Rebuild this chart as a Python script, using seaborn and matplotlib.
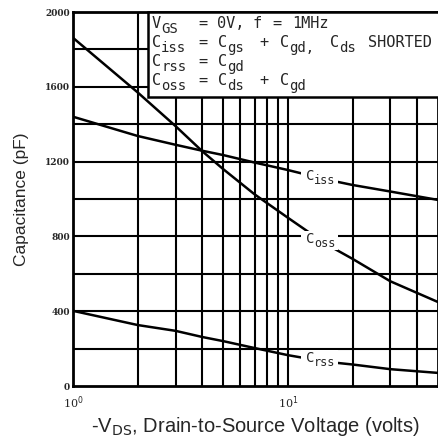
import numpy as np
import pandas as pd
import matplotlib
matplotlib.use("Agg")
import matplotlib.pyplot as plt
import seaborn as sns

# ── data ─────────────────────────────────────────────────────────
vds = [1, 2, 3, 4, 5, 7, 10, 15, 20, 30, 50]
ciss = [1440, 1337, 1290, 1258, 1235, 1195, 1155, 1105, 1075, 1040, 995]
coss = [1862, 1570, 1390, 1255, 1160, 1025, 900, 760, 680, 560, 449]
crss = [402, 326, 295, 262, 240, 203, 165, 130, 115, 90, 70]

y_ticks = [0, 400, 800, 1200, 1600, 2000]
x_ticks = [1, 10]
x_ticklabels = ["10$^0$", "10$^1$"]
curve_subs = ["iss", "oss", "rss"]

df = pd.DataFrame({"vds": vds * 3,
                   "cap": ciss + coss + crss,
                   "series": ["iss"] * len(vds) + ["oss"] * len(vds) + ["rss"] * len(vds)})

sns.set_style("white")
plt.rcParams["font.family"] = ["Liberation Sans", "DejaVu Sans"]
plt.rcParams["mathtext.fontset"] = "dejavusans"

W, H = 438, 441
L, T, R, B = 73, 12, 438, 386          # axes box in pixels
MONO = "DejaVu Sans Mono"

fig = plt.figure(figsize=(W / 100, H / 100), dpi=100)
ax = fig.add_axes([L / W, (H - B) / H, (R - L) / W, (B - T) / H])


def pa(px, py):
    # pixel position -> axes fraction
    return (px - L) / (R - L), (B - py) / (B - T)


sns.lineplot(data=df, x="vds", y="cap", units="series", estimator=None,
             color="black", linewidth=1.8, ax=ax, legend=False, zorder=3)

ax.set_xscale("log")
ax.set_xlim(1, 50)
ax.set_ylim(0, 2000)

for g in [2, 3, 4, 5, 6, 7, 8, 9, 10, 20, 30, 40]:
    ax.axvline(g, color="black", linewidth=1.5, zorder=1)
for g in range(200, 2000, 200):
    ax.axhline(g, color="black", linewidth=1.5, zorder=1)

ax.set_xticks(x_ticks)
ax.set_xticklabels(x_ticklabels, fontsize=8, family="DejaVu Serif")
ax.set_xticks([], minor=True)
ax.set_yticks(y_ticks)
ax.set_yticklabels([str(v) for v in y_ticks],
                   fontsize=6.5, family="DejaVu Serif", fontweight="bold")
ax.tick_params(axis="both", length=0)
ax.tick_params(axis="x", pad=6)
ax.tick_params(axis="y", pad=2)

for s in ax.spines.values():
    s.set_linewidth(2)
    s.set_color("black")

ax.set_xlabel("-V$_{\\rm DS}$, Drain-to-Source Voltage (volts)", fontsize=14.5, labelpad=3)
ax.set_ylabel("Capacitance (pF)", fontsize=12.5, labelpad=12)


def put(px, base, main, sub=None, size=11, sub_size=10, drop=5):
    x, y = pa(px, base)
    ax.text(x, y, main, transform=ax.transAxes, family=MONO, fontsize=size,
            ha="left", va="baseline", zorder=6)
    if sub:
        cw = 0.602 * size * 100 / 72
        x2, y2 = pa(px + cw * len(main), base + drop)
        ax.text(x2, y2, sub, transform=ax.transAxes, family=MONO,
                fontsize=sub_size, ha="left", va="baseline", zorder=6)


# inline curve labels (white patch hides curve + grid behind them)
for sub, base in zip(curve_subs, [180, 243, 362]):
    x0, y0 = pa(301, base + 7)
    x1, y1 = pa(338, base - 12)
    ax.add_patch(plt.Rectangle((x0, y0), x1 - x0, y1 - y0, transform=ax.transAxes,
                               facecolor="white", edgecolor="none", zorder=4))
    put(306, base, "C", sub, size=10, sub_size=8.5, drop=4)

# condition box
bx0, by0 = pa(148, 97)
ax.add_patch(plt.Rectangle((bx0, by0), 1.1 - bx0, 1 - by0,
                           transform=ax.transAxes, facecolor="white",
                           edgecolor="black", linewidth=1.8, zorder=5,
                           clip_on=False))
box_rows = [
    [(152, "V", "GS"), (198, "="), (217, "0V,"), (253, "f"), (272, "="), (292, "1MHz")],
    [(152, "C", "iss"), (198, "="), (218, "C", "gs"), (259, "+"), (280, "C", "gd,"),
     (330, "C", "ds"), (368, "SHORTED")],
    [(152, "C", "rss"), (198, "="), (218, "C", "gd")],
    [(152, "C", "oss"), (198, "="), (218, "C", "ds"), (259, "+"), (280, "C", "gd")],
]
for i, row in enumerate(box_rows):
    base = 28 + 19 * i
    for seg in row:
        put(seg[0], base, seg[1], seg[2] if len(seg) > 2 else None)

fig.savefig("out.png", dpi=100)
